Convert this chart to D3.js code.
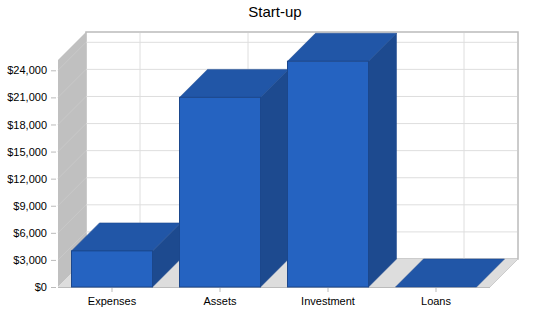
<!DOCTYPE html>
<html>
<head>
<meta charset="utf-8">
<script src="https://cdn.jsdelivr.net/npm/d3@7"></script>
<style>
  body { margin: 0; background: #fff; }
  text { font-family: "Liberation Sans", Arial, sans-serif; }
</style>
</head>
<body>
<div id="chart"></div>
<script>
const categories = ['Expenses', 'Assets', 'Investment', 'Loans']
const values = [4000, 21000, 25000, 0]
const yTicks = [0, 3000, 6000, 9000, 12000, 15000, 18000, 21000, 24000]

const width = 550
const height = 318
const plotLeft = 58, plotRight = 490, plotBottom = 287, plotTop = 60
const depth = 28

const front = '#2563c1'
const topColor = '#2156a7'
const side = '#1d4a8f'
const edge = '#1b478c'

const svg = d3.select('#chart').append('svg')
    .attr('width', width)
    .attr('height', height)

const x = d3.scaleBand().domain(categories).range([plotLeft, plotRight])
    .paddingInner(0.25).paddingOuter(0.125)
const y = d3.scaleLinear().domain([0, 24000]).range([plotBottom, 70.3])

const poly = pts => 'M' + pts.map(p => p.join(',')).join('L') + 'Z'

// title
svg.append('text')
    .attr('x', 275).attr('y', 17)
    .attr('text-anchor', 'middle')
    .attr('font-size', 15)
    .text('Start-up')

// back wall
svg.append('rect')
    .attr('x', plotLeft + depth).attr('y', plotTop - depth)
    .attr('width', plotRight - plotLeft).attr('height', plotBottom - plotTop)
    .attr('fill', '#fff').attr('stroke', '#bbb').attr('stroke-width', 1.5)

// left wall
svg.append('path')
    .attr('d', poly([[plotLeft, plotTop], [plotLeft + depth, plotTop - depth], [plotLeft + depth, plotBottom - depth], [plotLeft, plotBottom]]))
    .attr('fill', '#c0c0c0')

// floor
svg.append('path')
    .attr('d', poly([[plotLeft, plotBottom], [plotLeft + depth, plotBottom - depth], [plotRight + depth, plotBottom - depth], [plotRight, plotBottom]]))
    .attr('fill', '#dddddd')

// gridlines on back wall + left wall
yTicks.filter(d => d > 0).forEach(d => {
    svg.append('line')
        .attr('x1', plotLeft + depth).attr('x2', plotRight + depth - 1)
        .attr('y1', y(d) - depth).attr('y2', y(d) - depth)
        .attr('stroke', '#dedede')
    svg.append('line')
        .attr('x1', plotLeft).attr('x2', plotLeft + depth)
        .attr('y1', y(d)).attr('y2', y(d) - depth)
        .attr('stroke', '#c9c9c9')
})
categories.forEach(c => {
    const cx = x(c) + x.bandwidth() / 2 + depth
    svg.append('line')
        .attr('x1', cx).attr('x2', cx)
        .attr('y1', plotTop - depth + 1).attr('y2', plotBottom - depth)
        .attr('stroke', '#dedede')
})

// floor front edge
svg.append('line')
    .attr('x1', plotLeft).attr('x2', plotRight)
    .attr('y1', plotBottom + 0.5).attr('y2', plotBottom + 0.5)
    .attr('stroke', '#bbb')
svg.append('line')
    .attr('x1', plotRight).attr('x2', plotRight + depth)
    .attr('y1', plotBottom).attr('y2', plotBottom - depth)
    .attr('stroke', '#ccc')

// bars
const bars = svg.append('g')
categories.forEach((c, i) => {
    const x0 = x(c), x1 = x(c) + x.bandwidth()
    const yt = y(values[i])
    const g = bars.append('g')
    if (values[i] > 0) {
        g.append('path')
            .attr('d', poly([[x1, yt], [x1 + depth, yt - depth], [x1 + depth, plotBottom - depth], [x1, plotBottom]]))
            .attr('fill', side).attr('stroke', edge).attr('stroke-width', 0.5)
    }
    g.append('path')
        .attr('d', poly([[x0, yt], [x0 + depth, yt - depth], [x1 + depth, yt - depth], [x1, yt]]))
        .attr('fill', topColor).attr('stroke', edge).attr('stroke-width', 0.5)
    if (values[i] > 0) {
        g.append('rect')
            .attr('x', x0).attr('y', yt)
            .attr('width', x.bandwidth()).attr('height', plotBottom - yt)
            .attr('fill', front).attr('stroke', edge).attr('stroke-width', 1)
    }
})

// axes
const yAxis = svg.append('g')
    .attr('transform', `translate(${plotLeft - 2},0)`)
    .call(d3.axisLeft(y).tickValues(yTicks).tickFormat(d3.format('$,')).tickSize(5).tickPadding(4))
yAxis.select('.domain').remove()
yAxis.selectAll('line').attr('stroke', '#bbb')
yAxis.selectAll('text').attr('font-size', 11).attr('fill', '#000')
    .style('font-family', '"Liberation Sans", Arial, sans-serif')

const xAxis = svg.append('g')
    .attr('transform', `translate(0,${plotBottom + 1})`)
    .call(d3.axisBottom(x).tickSize(4).tickPadding(5))
xAxis.select('.domain').remove()
xAxis.selectAll('line').attr('stroke', '#bbb')
xAxis.selectAll('text').attr('font-size', 11).attr('fill', '#000')
    .style('font-family', '"Liberation Sans", Arial, sans-serif')
</script>
</body>
</html>
